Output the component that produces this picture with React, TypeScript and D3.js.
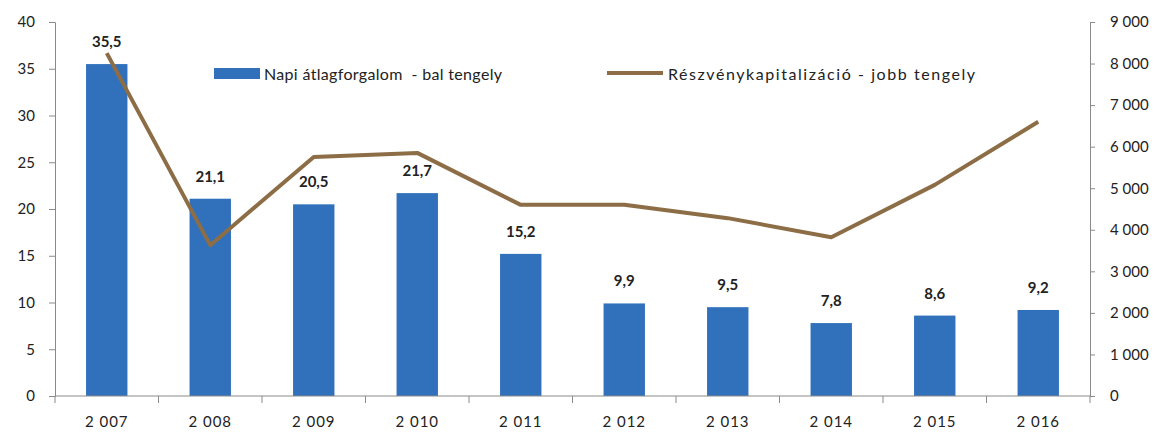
import React, { useEffect, useRef } from 'react';
import * as d3 from 'd3';

const years = ['2 007', '2 008', '2 009', '2 010', '2 011', '2 012', '2 013', '2 014', '2 015', '2 016'];
const turnover = [35.5, 21.1, 20.5, 21.7, 15.2, 9.9, 9.5, 7.8, 8.6, 9.2];
const capitalization = [8250, 3630, 5750, 5850, 4600, 4600, 4280, 3820, 5080, 6600];
const leftTicks = [0, 5, 10, 15, 20, 25, 30, 35, 40];
const rightTicks = [0, 1000, 2000, 3000, 4000, 5000, 6000, 7000, 8000, 9000];
const barLabel = 'Napi átlagforgalom  - bal tengely';
const lineLabel = 'Részvénykapitalizáció - jobb tengely';

const W = 1160;
const H = 432;
const BAR = '#3171bc';
const LINE = '#8c6d46';
const AXIS = '#8a8a8a';
const FONT = 'Lato, "Open Sans", sans-serif';

const App = () => {
  const ref = useRef<SVGSVGElement>(null);

  useEffect(() => {
    if (!ref.current) return;
    const svg = d3.select(ref.current);
    svg.selectAll('*').remove();

    const margin = { top: 22, right: 70, bottom: 36, left: 55 };
    const cw = W - margin.left - margin.right;
    const ch = H - margin.top - margin.bottom;

    const x = d3.scaleBand().domain(years).range([0, cw]).paddingInner(0.6).paddingOuter(0.3);
    const xc = (d: string) => (x(d) as number) + x.bandwidth() / 2;
    const yl = d3.scaleLinear().domain([0, 40]).range([ch, 0]);
    const yr = d3.scaleLinear().domain([0, 9000]).range([ch, 0]);

    const g = svg.append('g').attr('transform', `translate(${margin.left},${margin.top})`);

    // bars
    g.selectAll('rect.bar')
      .data(turnover)
      .enter()
      .append('rect')
      .attr('x', (d, i) => x(years[i]) as number)
      .attr('y', d => yl(d))
      .attr('width', x.bandwidth())
      .attr('height', d => ch - yl(d))
      .attr('fill', BAR);

    // line
    const line = d3.line<number>()
      .x((d, i) => xc(years[i]))
      .y(d => yr(d));
    g.append('path')
      .datum(capitalization)
      .attr('d', line)
      .attr('fill', 'none')
      .attr('stroke', LINE)
      .attr('stroke-width', 4)
      .attr('stroke-linejoin', 'round');

    // bar labels
    g.selectAll('text.val')
      .data(turnover)
      .enter()
      .append('text')
      .attr('x', (d, i) => xc(years[i]))
      .attr('y', d => yl(d) - 17)
      .attr('text-anchor', 'middle')
      .style('font-family', FONT)
      .style('font-size', '15px')
      .style('font-weight', 'bold')
      .attr('fill', '#222')
      .text(d => d3.format('.1f')(d).replace('.', ','));

    const styleAxis = (sel: any) => {
      sel.select('.domain').attr('stroke', AXIS);
      sel.selectAll('.tick line').attr('stroke', AXIS);
      sel.selectAll('text')
        .style('font-family', FONT)
        .style('font-size', '15px')
        .attr('fill', '#222');
    };

    // left axis
    g.append('g')
      .call(d3.axisLeft(yl).tickValues(leftTicks).tickSize(6).tickSizeOuter(6).tickPadding(14))
      .call(styleAxis);

    // right axis, thousands separated by a space
    const fmt = (d: number) => (d >= 1000 ? `${Math.floor(d / 1000)} ${d3.format('03d')(d % 1000)}` : `${d}`);
    g.append('g')
      .attr('transform', `translate(${cw},0)`)
      .call(d3.axisRight(yr).tickValues(rightTicks).tickSize(5).tickSizeOuter(5).tickPadding(15).tickFormat(d => fmt(d as number)))
      .call(styleAxis);

    // x axis with ticks between categories
    const xa = g.append('g').attr('transform', `translate(0,${ch})`);
    xa.append('line').attr('x1', 0).attr('x2', cw).attr('stroke', AXIS);
    const step = cw / years.length;
    d3.range(years.length + 1).forEach(i => {
      xa.append('line')
        .attr('x1', i * step).attr('x2', i * step)
        .attr('y1', 0).attr('y2', 7)
        .attr('stroke', AXIS);
    });
    xa.selectAll('text.yr')
      .data(years)
      .enter()
      .append('text')
      .attr('x', d => xc(d))
      .attr('y', 31)
      .attr('text-anchor', 'middle')
      .style('font-family', FONT)
      .style('font-size', '15px')
      .style('letter-spacing', '1px')
      .attr('fill', '#222')
      .text(d => d);

    // legend
    const lg = svg.append('g');
    lg.append('rect').attr('x', 214).attr('y', 68).attr('width', 46).attr('height', 11).attr('fill', BAR);
    lg.append('text').attr('x', 264).attr('y', 80)
      .attr('textLength', 238).attr('lengthAdjust', 'spacing')
      .style('white-space', 'pre')
      .style('font-family', FONT).style('font-size', '16px').attr('fill', '#222')
      .text(barLabel);
    lg.append('line').attr('x1', 607).attr('x2', 663).attr('y1', 73).attr('y2', 73)
      .attr('stroke', LINE).attr('stroke-width', 4);
    lg.append('text').attr('x', 668).attr('y', 80)
      .attr('textLength', 307).attr('lengthAdjust', 'spacing')
      .style('font-family', FONT).style('font-size', '16px').attr('fill', '#222')
      .text(lineLabel);
  }, []);

  return (
    <svg ref={ref} width={W} height={H} style={{ display: 'block', position: 'absolute', left: 0, top: 0, background: '#fff' }} />
  );
};

export default App;
